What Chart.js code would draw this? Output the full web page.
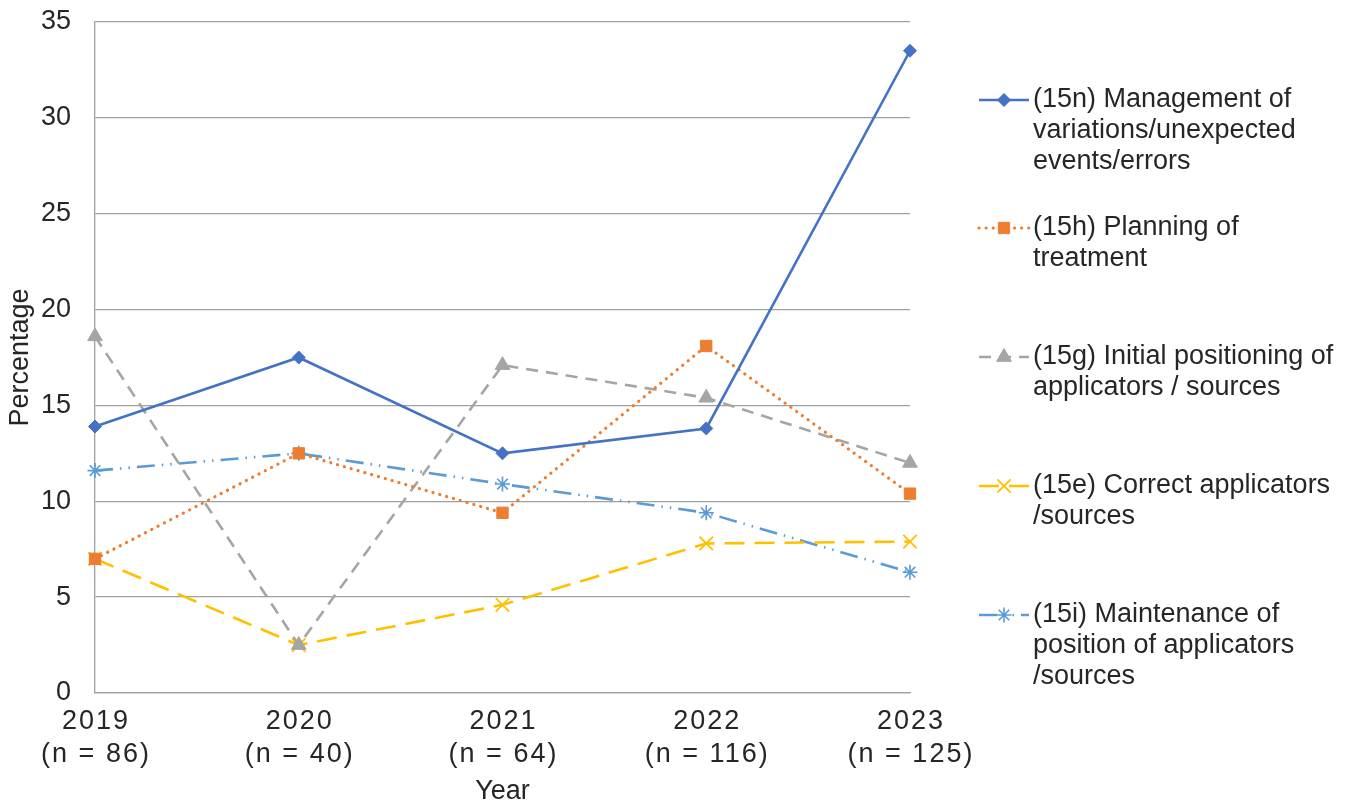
<!DOCTYPE html>
<html>
<head>
<meta charset="utf-8">
<script src="https://cdn.jsdelivr.net/npm/chart.js@4/dist/chart.umd.min.js"></script>
<style>
  html, body { margin: 0; padding: 0; background: #fff; }
  #wrap { position: relative; width: 1357px; height: 808px; }
</style>
</head>
<body>
<div id="wrap"><canvas id="myChart"></canvas></div>
<script>
// --- DATA ---
const years = ['2019', '2020', '2021', '2022', '2023'];
const sampleSizes = [86, 40, 64, 116, 125];
const yTicks = [0, 5, 10, 15, 20, 25, 30, 35];

const mgmtErrors = [13.9, 17.5, 12.5, 13.8, 33.5];     // 15n
const planning = [7.0, 12.5, 9.4, 18.1, 10.4];         // 15h
const initialPos = [18.6, 2.5, 17.1, 15.4, 12.0];      // 15g
const correctApplic = [7.0, 2.5, 4.6, 7.8, 7.9];       // 15e
const maintenancePos = [11.6, 12.5, 10.9, 9.4, 6.3];   // 15i

const legendLines = [
    ['(15n) Management of', 'variations/unexpected', 'events/errors'],
    ['(15h) Planning of', 'treatment'],
    ['(15g) Initial positioning of', 'applicators / sources'],
    ['(15e) Correct applicators', '/sources'],
    ['(15i) Maintenance of', 'position of applicators', '/sources']
];

const FONT = '"Liberation Sans", Arial, sans-serif';
const FSIZE = 27;
const TEXT = '#262626';
const GRID = '#a0a0a0';

function series(label, data, color, dash, style, radius, extra) {
    return Object.assign({
        label: label,
        data: data,
        borderColor: color,
        backgroundColor: color,
        borderWidth: 2.6,
        borderDash: dash,
        pointStyle: style,
        pointRadius: radius,
        pointHoverRadius: radius,
        pointBackgroundColor: color,
        pointBorderColor: color,
        pointBorderWidth: 1,
        tension: 0,
        fill: false
    }, extra || {});
}

const datasets = [
    series(legendLines[0].join(' '), mgmtErrors, '#4472c4', [], 'rectRot', 6.5),
    series(legendLines[1].join(' '), planning, '#ed7d31', [0.1, 7], 'rect', 8,
        { borderCapStyle: 'round', borderWidth: 3.2 }),
    series(legendLines[2].join(' '), initialPos, '#a5a5a5', [12, 8], 'triangle', 8.5),
    series(legendLines[3].join(' '), correctApplic, '#ffc000', [20, 10], 'crossRot', 9.5,
        { pointBorderWidth: 1.8 }),
    series(legendLines[4].join(' '), maintenancePos, '#5b9bd5', [18, 7, 1.5, 7, 1.5, 7], 'star', 7.5,
        { pointBorderWidth: 1.6 })
];

// marker for the legend samples, same style as the dataset points
function drawMarker(ctx, ds, x, y) {
    if (Chart.helpers && Chart.helpers.drawPoint) {
        ctx.save();
        ctx.setLineDash([]);
        ctx.fillStyle = ds.pointBackgroundColor;
        ctx.strokeStyle = ds.pointBorderColor;
        ctx.lineWidth = ds.pointBorderWidth;
        Chart.helpers.drawPoint(ctx, { pointStyle: ds.pointStyle, radius: ds.pointRadius, rotation: 0, borderWidth: ds.pointBorderWidth }, x, y);
        ctx.restore();
    }
}

// x labels (year + sample size) and the legend at the right
const extrasPlugin = {
    id: 'extras',
    afterDraw(chart) {
        const ctx = chart.ctx;
        const xs = chart.scales.x;

        ctx.save();
        ctx.fillStyle = TEXT;
        ctx.font = FSIZE + 'px ' + FONT;
        ctx.textAlign = 'center';
        ctx.textBaseline = 'middle';
        ctx.letterSpacing = '2px';
        years.forEach((yr, i) => {
            const px = xs.getPixelForTick(i) + 1;
            ctx.fillText(yr, px, 722);
            ctx.fillText('(n = ' + sampleSizes[i] + ')', px, 755);
        });
        ctx.restore();

        // legend
        const tops = [100, 228, 357, 486, 615];
        ctx.save();
        ctx.font = FSIZE + 'px ' + FONT;
        ctx.textBaseline = 'middle';
        ctx.textAlign = 'left';
        chart.data.datasets.forEach((ds, i) => {
            const y = tops[i];
            ctx.save();
            ctx.strokeStyle = ds.borderColor;
            ctx.lineWidth = ds.borderWidth;
            ctx.lineCap = ds.borderCapStyle || 'butt';
            ctx.setLineDash(ds.borderDash);
            ctx.beginPath();
            ctx.moveTo(979, y);
            ctx.lineTo(1029, y);
            ctx.stroke();
            ctx.restore();
            drawMarker(ctx, ds, 1004, y);
            ctx.fillStyle = TEXT;
            legendLines[i].forEach((line, k) => {
                ctx.fillText(line, 1033, y + k * 31);
            });
        });
        ctx.restore();
    }
};

const ctx = document.getElementById('myChart').getContext('2d');
new Chart(ctx, {
    type: 'line',
    data: { labels: years, datasets: datasets },
    options: {
        responsive: true,
        maintainAspectRatio: false,
        animation: false,
        layout: { padding: { left: 0, top: 22, right: 447, bottom: 0 } },
        plugins: {
            legend: { display: false },
            tooltip: { enabled: false }
        },
        scales: {
            x: {
                type: 'category',
                offset: false,
                grid: { display: false, drawTicks: false },
                border: { display: true, color: GRID, width: 1.3 },
                ticks: { display: false },
                title: {
                    display: true,
                    text: 'Year',
                    color: TEXT,
                    font: { family: FONT, size: FSIZE },
                    padding: { top: 0, bottom: 0 }
                },
                afterFit(scale) { scale.height = 115; }
            },
            y: {
                min: 0,
                max: 35,
                afterBuildTicks(scale) { scale.ticks = yTicks.map(v => ({ value: v })); },
                grid: { color: GRID, lineWidth: 1.3, drawTicks: false },
                border: { display: true, color: GRID, width: 1.3 },
                ticks: {
                    color: TEXT,
                    font: { family: FONT, size: FSIZE },
                    padding: 24
                },
                title: {
                    display: true,
                    text: 'Percentage',
                    color: TEXT,
                    font: { family: FONT, size: FSIZE },
                    padding: { top: 4, bottom: 0 }
                },
                afterFit(scale) {
                    scale.width = 95;
                    // label overhang is already covered by the layout padding
                    scale.paddingTop = 0;
                    scale.paddingBottom = 0;
                }
            }
        }
    },
    plugins: [extrasPlugin]
});
</script>
</body>
</html>
